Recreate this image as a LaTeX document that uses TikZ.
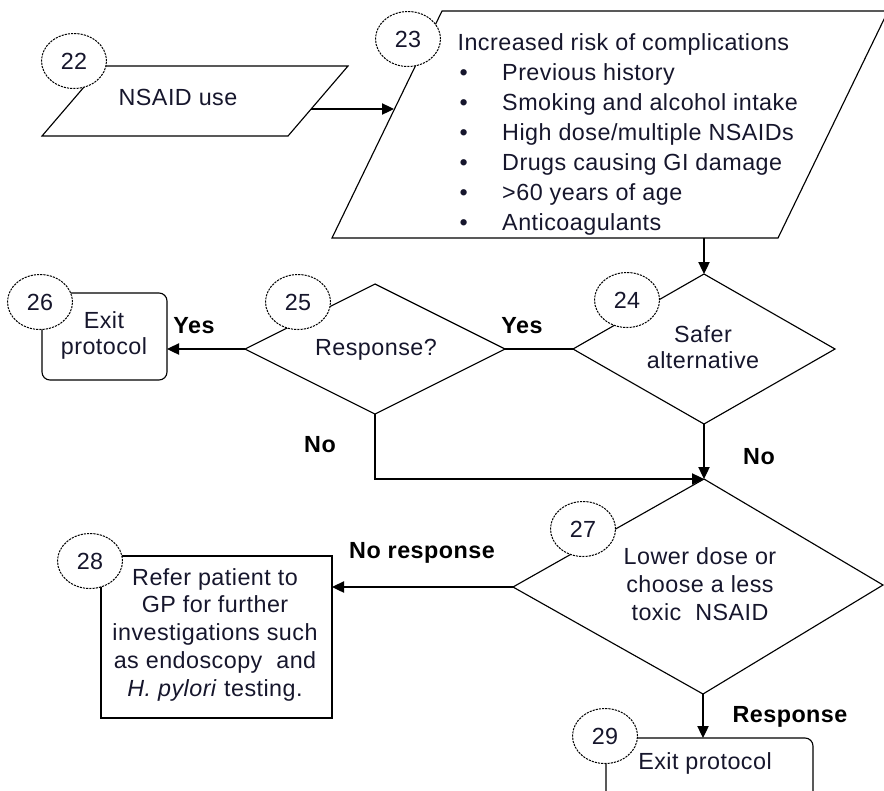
\documentclass[tikz,border=0pt]{standalone}
\usepackage{fontspec}
\setmainfont{Liberation Sans}[LetterSpace=2]
\usetikzlibrary{arrows.meta,shapes.geometric}
\definecolor{ink}{RGB}{22,22,44}
\begin{document}
\begin{tikzpicture}[x=0.75pt,y=-0.75pt,
  line width=0.85pt,
  every node/.style={text=ink,font=\fontsize{17.5}{21}\selectfont},
  num/.style={ellipse,draw,line width=0.75pt,dash pattern=on 1.6pt off 0.8pt,fill=white,
    minimum width=65*0.75pt,minimum height=55*0.75pt,inner sep=0pt},
  lbl/.style={text=black,font=\bfseries\fontsize{17.5}{21}\selectfont},
  arr/.style={-{Triangle[length=9pt,width=8.5pt]}},
  dec/.style={diamond,draw,inner sep=0pt,outer sep=0pt},
  exitbox/.style={draw,rounded corners=6pt,inner sep=0pt,outer sep=0pt},
  plainbox/.style={draw,inner sep=0pt,outer sep=0pt}]
\useasboundingbox (0,0) rectangle (884,790);
\clip (0,0) rectangle (884,790);

% 22: input parallelogram
\coordinate (p22a) at (102,66);
\coordinate (p22b) at (348,66);
\coordinate (p22c) at (288,136);
\coordinate (p22d) at (42,136);
\draw (p22a) -- (p22b) -- (p22c) -- (p22d) -- cycle;
\node (t22) at (178,97) {NSAID use};
\coordinate (p22out) at (311,109);

% 23: risk factors parallelogram
\coordinate (p23a) at (442,11);
\coordinate (p23b) at (888,11);
\coordinate (p23c) at (778,238);
\coordinate (p23d) at (332,238);
\draw (p23a) -- (p23b) -- (p23c) -- (p23d) -- cycle;
\coordinate (p23in) at (394,109);
\coordinate (p23out) at (704,238);
\node[anchor=north west,inner sep=0pt,align=left,
  font=\fontsize{17.5}{22.5}\selectfont] (t23) at (457,33)
  {Increased risk of complications\\
   \hspace*{1.5pt}\makebox[32pt][l]{\textbullet}Previous history\\
   \hspace*{1.5pt}\makebox[32pt][l]{\textbullet}Smoking and alcohol intake\\
   \hspace*{1.5pt}\makebox[32pt][l]{\textbullet}High dose/multiple NSAIDs\\
   \hspace*{1.5pt}\makebox[32pt][l]{\textbullet}Drugs causing GI damage\\
   \hspace*{1.5pt}\makebox[32pt][l]{\textbullet}>60 years of age\\
   \hspace*{1.5pt}\makebox[32pt][l]{\textbullet}Anticoagulants};

% decisions 24 and 25
\node[dec,minimum width=262*0.75pt,minimum height=150*0.75pt] (d24) at (704,349) {};
\node[align=center,font=\fontsize{17.5}{20}\selectfont] (t24) at (703,347) {Safer\\alternative};
\node[dec,minimum width=260*0.75pt,minimum height=130*0.75pt] (d25) at (375,349) {};
\node (t25) at (376,350) {Response?};

% decision 27
\coordinate (d27n) at (704,479);
\coordinate (d27e) at (883,585);
\coordinate (d27s) at (703,694);
\coordinate (d27w) at (513,587);
\draw (d27n) -- (d27e) -- (d27s) -- (d27w) -- cycle;
\node[align=center,font=\fontsize{17.5}{21}\selectfont] (t27) at (700,584)
  {Lower dose or\\choose a less\\toxic~ NSAID};

% end points
\node[exitbox,minimum width=125*0.75pt,minimum height=87*0.75pt] (b26) at (104.5,336.5) {};
\node[align=center,font=\fontsize{17.5}{20}\selectfont] (t26) at (104,335.5) {Exit\\protocol};
\node[plainbox,minimum width=231*0.75pt,minimum height=162*0.75pt] (b28) at (216.5,637) {};
\node[align=center,font=\fontsize{17.5}{20.8}\selectfont] (t28) at (215,634.5)
  {Refer patient to\\GP for further\\investigations such\\as endoscopy~ and\\\textit{H. pylori} testing.};
\node[exitbox,minimum width=207*0.75pt,minimum height=84*0.75pt] (b29) at (709.5,780) {};
\node (t29) at (705,763) {Exit protocol};

% connectors
\draw[arr] (p22out) -- (p23in);
\draw[arr] (p23out) -- (d24.north);
\draw (d24.west) -- (d25.east);
\draw[arr] (d25.west) -- (d25.west -| b26.east);
\draw[arr] (d25.south) |- (d27n);
\draw[arr] (d24.south) -- (d27n);
\draw[arr] (d27w) -- (d27w -| b28.east);
\draw[arr] (d27s) -- (d27s |- b29.north);

% branch labels
\node[lbl] (yes1) at (522,326) {Yes};
\node[lbl] (yes2) at (194,326) {Yes};
\node[lbl] (no1) at (320,445) {No};
\node[lbl] (no2) at (759,457) {No};
\node[lbl] (nores) at (422,553) {No response};
\node[lbl] (res) at (790,717) {Response};

% step numbers
\node[num] (n22) at (74,61) {22};
\node[num] (n23) at (408,39) {23};
\node[num] (n24) at (627,300) {24};
\node[num] (n25) at (298,302) {25};
\node[num] (n26) at (40,302) {26};
\node[num] (n27) at (583,529) {27};
\node[num] (n28) at (90,561) {28};
\node[num] (n29) at (605,736) {29};
\end{tikzpicture}
\end{document}
